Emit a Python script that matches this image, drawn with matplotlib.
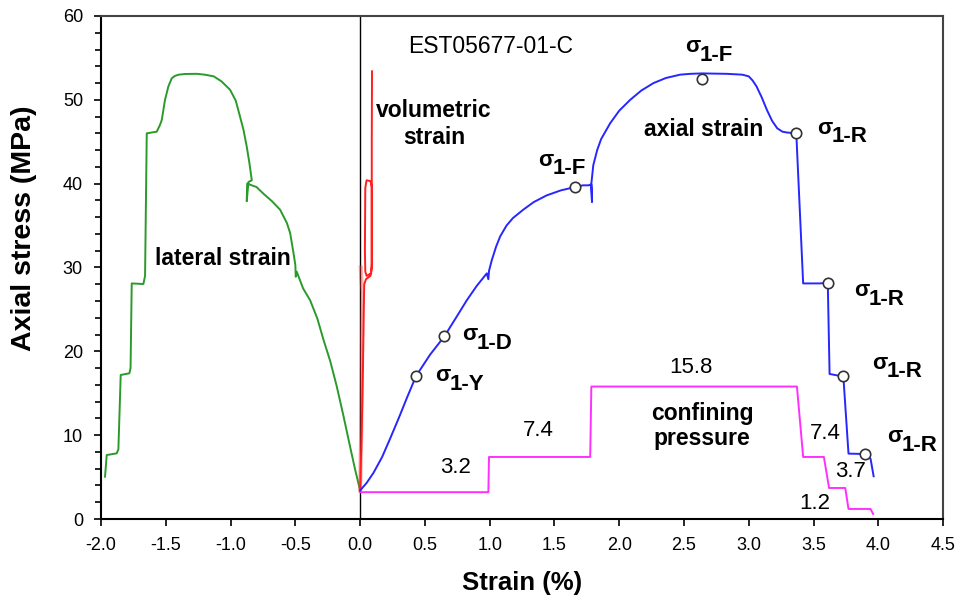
import numpy as np
import matplotlib
matplotlib.use("Agg")
import matplotlib.pyplot as plt
from matplotlib.ticker import MultipleLocator, FormatStrFormatter

plt.rcParams["font.family"] = ["Liberation Sans", "DejaVu Sans"]

# lateral strain (green)
lat_x = [-1.969, -1.956, -1.879, -1.866, -1.848, -1.781, -1.772, -1.763, -1.673, -1.66,
         -1.647, -1.57, -1.545, -1.531, -1.506, -1.48, -1.454, -1.43, -1.40, -1.35,
         -1.26, -1.20, -1.13, -1.07, -1.004, -0.96, -0.927, -0.90, -0.875, -0.855,
         -0.836, -0.862, -0.875, -0.872, -0.80, -0.746, -0.68, -0.618, -0.565, -0.54,
         -0.515, -0.50, -0.497, -0.489, -0.44, -0.386, -0.33, -0.283, -0.23, -0.18,
         -0.13, -0.077, -0.04, 0.0]
lat_y = [5.05, 7.63, 7.83, 8.3, 17.18, 17.38, 18.0, 28.1, 28.03, 29.0,
         46.0, 46.2, 47.0, 47.6, 50.0, 51.6, 52.57, 52.85, 53.0, 53.08,
         53.1, 53.0, 52.8, 52.2, 51.2, 49.9, 48.0, 46.4, 44.4, 42.5,
         40.4, 40.2, 37.9, 40.0, 39.6, 38.8, 37.9, 36.9, 35.3, 34.1,
         31.8, 30.3, 28.9, 29.5, 27.5, 26.1, 23.9, 21.4, 18.8, 15.8,
         12.4, 8.6, 6.0, 3.4]

# axial strain (blue)
ax_x = [0.0, 0.05, 0.103, 0.17, 0.232, 0.30, 0.36, 0.432, 0.54, 0.651,
        0.74, 0.824, 0.90, 0.978, 0.99, 0.995, 1.017, 1.05, 1.081, 1.13,
        1.18, 1.26, 1.34, 1.44, 1.55, 1.66, 1.72, 1.763, 1.785, 1.79,
        1.785, 1.80, 1.83, 1.86, 1.93, 2.0, 2.085, 2.17, 2.265, 2.36,
        2.47, 2.55, 2.64, 2.83, 2.95, 3.0, 3.03, 3.06, 3.10, 3.14,
        3.18, 3.22, 3.26, 3.295, 3.367, 3.42, 3.55, 3.61, 3.624, 3.707,
        3.73, 3.77, 3.874, 3.90, 3.94, 3.964]
ax_y = [3.4, 4.3, 5.5, 7.4, 9.6, 12.1, 14.4, 17.06, 19.6, 21.8,
        24.0, 26.1, 27.8, 29.3, 28.6, 29.6, 30.9, 32.5, 33.7, 35.0,
        35.9, 36.9, 37.8, 38.6, 39.2, 39.6, 39.8, 39.8, 39.9, 37.8,
        40.0, 42.2, 44.0, 45.3, 47.2, 48.7, 50.0, 51.1, 52.0, 52.6,
        53.0, 53.1, 53.15, 53.1, 53.0, 52.8, 52.3, 51.6, 50.3, 48.8,
        47.5, 46.6, 46.2, 46.1, 46.0, 28.1, 28.1, 28.2, 17.3, 17.06,
        17.06, 7.8, 7.76, 7.7, 7.2, 5.1]

# volumetric strain (red)
vol_x = [0.0, 0.012, 0.022, 0.028, 0.032, 0.045, 0.08, 0.09, 0.09, 0.08,
         0.05, 0.04, 0.037, 0.04, 0.05, 0.085, 0.09, 0.09, 0.092]
vol_y = [3.4, 10.0, 18.0, 25.0, 28.0, 28.6, 29.0, 30.0, 39.6, 40.3,
         40.4, 39.5, 32.0, 29.5, 29.0, 29.3, 30.5, 45.0, 53.4]
vol2_x = [0.0, 0.008, 0.014, 0.02, 0.01, 0.005]
vol2_y = [3.4, 10.0, 20.0, 27.0, 28.5, 30.0]

# characteristic stress points
pt_x = [0.432, 0.651, 1.66, 2.64, 3.367, 3.61, 3.73, 3.90]
pt_y = [17.06, 21.8, 39.6, 52.45, 46.0, 28.2, 17.06, 7.7]
pt_sub = ["1-Y", "1-D", "1-F", "1-F", "1-R", "1-R", "1-R", "1-R"]
pt_lab_x = [0.58, 0.785, 1.377, 2.51, 3.527, 3.81, 3.95, 4.067]
pt_lab_y = [17.06, 21.95, 42.8, 56.3, 46.6, 27.2, 18.6, 9.8]

# confining pressure (magenta) steps
conf_levels = [3.2, 7.4, 15.8, 7.4, 3.7, 1.2]
conf_start = [0.0, 0.995, 1.785, 3.42, 3.62, 3.77]
conf_end = [0.99, 1.776, 3.372, 3.58, 3.745, 3.94]
conf_lab_x = [0.734, 1.375, 2.55, 3.59, 3.784, 3.51]
conf_lab_y = [6.2, 10.6, 18.1, 10.2, 5.7, 1.8]

conf_x, conf_y = [], []
for lv, x0, x1 in zip(conf_levels, conf_start, conf_end):
    conf_x += [x0, x1]
    conf_y += [lv, lv]
conf_x.append(3.96)
conf_y.append(0.6)

fig = plt.figure(figsize=(9.63, 6.03), dpi=100)
ax = fig.add_axes([0.1049, 0.1393, 0.8744, 0.8342])

lw = 1.4
ax.axvline(0.0, color="black", lw=1.0, zorder=1)
ax.plot(lat_x, lat_y, color="#2a9a2a", lw=lw)
ax.plot(vol2_x, vol2_y, color="#ff4040", lw=3.0, alpha=0.4)
ax.plot(vol_x, vol_y, color="#ff1f1f", lw=lw)
ax.plot(conf_x, conf_y, color="#ff30ff", lw=lw)
ax.plot(ax_x, ax_y, color="#2626ff", lw=lw)
ax.plot(pt_x, pt_y, "o", ms=7.5, mfc="white", mec="#333333", mew=1.2, zorder=5)

for sx, sy, sub in zip(pt_lab_x, pt_lab_y, pt_sub):
    ax.text(sx, sy, "σ", fontsize=16, fontweight="bold", ha="left", va="center")
    ax.annotate(sub, xy=(sx, sy), xytext=(10.5, -6), textcoords="offset points",
                fontsize=16, fontweight="bold", ha="left", va="center")

for lx, ly, lv in zip(conf_lab_x, conf_lab_y, conf_levels):
    ax.text(lx, ly, f"{lv:.1f}", fontsize=16, ha="center", va="center")

ax.text(1.01, 56.3, "EST05677-01-C", fontsize=16.5, ha="center", va="center")
ax.text(0.571, 47.1, "volumetric\nstrain", fontsize=16.5, fontweight="bold",
        ha="center", va="center", linespacing=1.2)
ax.text(-1.058, 31.1, "lateral strain", fontsize=16.5, fontweight="bold",
        ha="center", va="center")
ax.text(2.651, 46.4, "axial strain", fontsize=16.5, fontweight="bold",
        ha="center", va="center")
ax.text(2.64, 11.1, "confining\npressure", fontsize=16.5, fontweight="bold",
        ha="center", va="center", linespacing=1.1)

ax.set_xlim(-2.0, 4.5)
ax.set_ylim(0, 60)
ax.xaxis.set_major_locator(MultipleLocator(0.5))
ax.xaxis.set_major_formatter(FormatStrFormatter("%.1f"))
ax.yaxis.set_major_locator(MultipleLocator(10))
ax.yaxis.set_minor_locator(MultipleLocator(2))
ax.tick_params(axis="both", which="major", direction="out", length=5, width=1.2,
               labelsize=13, pad=8)
ax.tick_params(axis="y", which="minor", direction="out", length=4, width=1.2)
for s in ax.spines.values():
    s.set_linewidth(1.5)
ax.spines["top"].set_color("#444444")
ax.spines["right"].set_color("#444444")

ax.set_xlabel("Strain (%)", fontsize=18.5, fontweight="bold", labelpad=12)
ax.set_ylabel("Axial stress (MPa)", fontsize=20.5, fontweight="bold")
ax.yaxis.set_label_coords(-0.076, 0.578)

fig.savefig("out.png", dpi=100)
